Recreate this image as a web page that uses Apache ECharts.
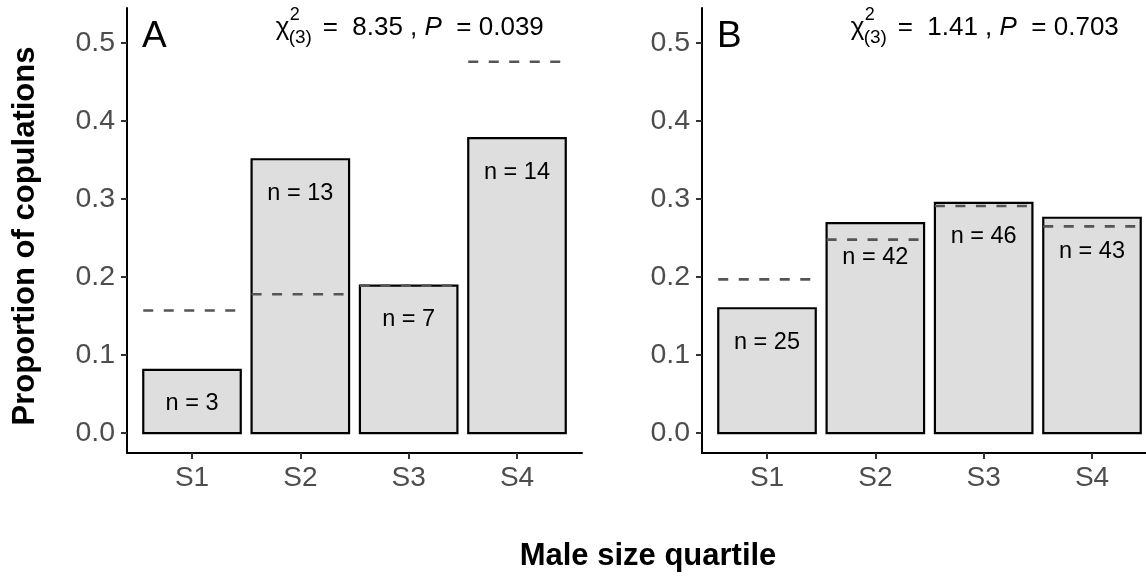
<!DOCTYPE html>
<html>
<head>
<meta charset="utf-8">
<script src="https://cdn.jsdelivr.net/npm/echarts@6/dist/echarts.min.js"></script>
<style>
  html, body { margin: 0; padding: 0; background: #fff; }
  #chart { width: 1146px; height: 579px; }
</style>
</head>
<body>
<div id="chart"></div>
<script>
// Male size quartiles
const quartiles = ['S1', 'S2', 'S3', 'S4'];

// Panel A
const obsA = [0.081, 0.351, 0.189, 0.378];   // observed proportion of copulations
const expA = [0.157, 0.178, 0.189, 0.476];   // expected proportion (dashed)
const countA = [3, 13, 7, 14];
const statA = { chi: '8.35', p: '0.039' };

// Panel B
const obsB = [0.160, 0.269, 0.295, 0.276];
const expB = [0.197, 0.248, 0.291, 0.265];
const countB = [25, 42, 46, 43];
const statB = { chi: '1.41', p: '0.703' };

const yTicks = [0, 0.1, 0.2, 0.3, 0.4, 0.5];
const xTicks = [1, 2, 3, 4];

const FONT = '"Liberation Sans", Arial, Helvetica, sans-serif';
const HALF_BAR = 0.45;

const chart = echarts.init(document.getElementById('chart'), null, { renderer: 'canvas' });

function makeGrid(left) {
  return { left: left, top: 8, width: 455, height: 445, containLabel: false, outerBoundsMode: 'none' };
}

function makeX(gridIndex) {
  return {
    type: 'value', gridIndex: gridIndex, min: 0.4, max: 4.6,
    axisLine: { show: true, onZero: false, lineStyle: { color: '#000', width: 2 } },
    axisTick: { show: true, customValues: xTicks, length: 6, lineStyle: { color: '#333', width: 2 } },
    axisLabel: {
      customValues: xTicks, margin: 11, color: '#4D4D4D', fontSize: 28, fontFamily: FONT,
      formatter: v => quartiles[Math.round(v) - 1]
    },
    splitLine: { show: false }
  };
}

function makeY(gridIndex) {
  return {
    type: 'value', gridIndex: gridIndex, min: -0.0256, max: 0.5449,
    axisLine: { show: true, onZero: false, lineStyle: { color: '#000', width: 2 } },
    axisTick: { show: true, customValues: yTicks, length: 6, lineStyle: { color: '#333', width: 2 } },
    axisLabel: {
      customValues: yTicks, margin: 12, color: '#4D4D4D', fontSize: 28.5, fontFamily: FONT,
      formatter: v => v.toFixed(1)
    },
    splitLine: { show: false }
  };
}

function barSeries(idx, obs, counts) {
  return {
    type: 'custom', xAxisIndex: idx, yAxisIndex: idx, z: 2,
    data: obs.map((v, i) => [i + 1, v, counts[i]]),
    renderItem: function (params, api) {
      const x = api.value(0), v = api.value(1), n = api.value(2);
      const tl = api.coord([x - HALF_BAR, v]);
      const br = api.coord([x + HALF_BAR, 0]);
      return {
        type: 'group',
        children: [
          {
            type: 'rect',
            shape: { x: tl[0], y: tl[1], width: br[0] - tl[0], height: br[1] - tl[1] },
            style: { fill: '#DEDEDE', stroke: '#000', lineWidth: 2.2 }
          },
          {
            type: 'text', z2: 10,
            style: {
              text: 'n = ' + n, x: (tl[0] + br[0]) / 2, y: tl[1] + 34,
              align: 'center', verticalAlign: 'middle',
              font: '23.5px ' + FONT, fill: '#000'
            }
          }
        ]
      };
    }
  };
}

function expectedSeries(idx, exp) {
  return {
    type: 'custom', xAxisIndex: idx, yAxisIndex: idx, z: 3,
    data: exp.map((v, i) => [i + 1, v]),
    renderItem: function (params, api) {
      const x = api.value(0), v = api.value(1);
      const a = api.coord([x - HALF_BAR, v]);
      const b = api.coord([x + HALF_BAR, v]);
      return {
        type: 'line',
        shape: { x1: a[0], y1: a[1], x2: b[0], y2: b[1] },
        style: { stroke: '#555', lineWidth: 2.6, lineDash: [10, 10.5] }
      };
    }
  };
}

// Chi-square annotation, centred over S3
function statSeries(idx, stat) {
  return {
    type: 'custom', xAxisIndex: idx, yAxisIndex: idx, z: 4,
    data: [[3, 0.5]],
    renderItem: function (params, api) {
      const p = api.coord([api.value(0), api.value(1)]);
      const x0 = p[0] - 133;
      const yMid = p[1] - 15;
      return {
        type: 'group',
        children: [
          { type: 'text', style: { text: 'χ', x: x0, y: yMid, align: 'left', verticalAlign: 'middle', font: '26px ' + FONT, fill: '#000' } },
          { type: 'text', style: { text: '2', x: x0 + 14, y: yMid - 13, align: 'left', verticalAlign: 'middle', font: '18px ' + FONT, fill: '#000' } },
          { type: 'text', style: { text: '(3)', x: x0 + 13, y: yMid + 10, align: 'left', verticalAlign: 'middle', font: '19px ' + FONT, fill: '#000' } },
          {
            type: 'text',
            style: {
              text: '{a|=  ' + stat.chi + ' , }{i|P}{a|  = ' + stat.p + '}',
              x: x0 + 47, y: yMid, align: 'left', verticalAlign: 'middle',
              rich: {
                a: { fontSize: 26, fontFamily: FONT, color: '#000' },
                i: { fontSize: 26, fontFamily: FONT, fontStyle: 'italic', color: '#000' }
              }
            }
          }
        ]
      };
    }
  };
}

const option = {
  animation: false,
  backgroundColor: '#fff',
  grid: [makeGrid(127), makeGrid(702)],
  xAxis: [makeX(0), makeX(1)],
  yAxis: [makeY(0), makeY(1)],
  graphic: [
    { type: 'text', left: 142, top: 18, style: { text: 'A', font: '37px ' + FONT, fill: '#000' } },
    { type: 'text', left: 717, top: 18, style: { text: 'B', font: '37px ' + FONT, fill: '#000' } },
    {
      type: 'text', x: 648, y: 556,
      style: { text: 'Male size quartile', align: 'center', verticalAlign: 'middle', font: 'bold 31px ' + FONT, fill: '#000' }
    },
    {
      type: 'text', x: 25, y: 236, rotation: Math.PI / 2,
      style: { text: 'Proportion of copulations', align: 'center', verticalAlign: 'middle', font: 'bold 31px ' + FONT, fill: '#000' }
    }
  ],
  series: [
    barSeries(0, obsA, countA),
    expectedSeries(0, expA),
    statSeries(0, statA),
    barSeries(1, obsB, countB),
    expectedSeries(1, expB),
    statSeries(1, statB)
  ]
};

chart.setOption(option);
</script>
</body>
</html>
